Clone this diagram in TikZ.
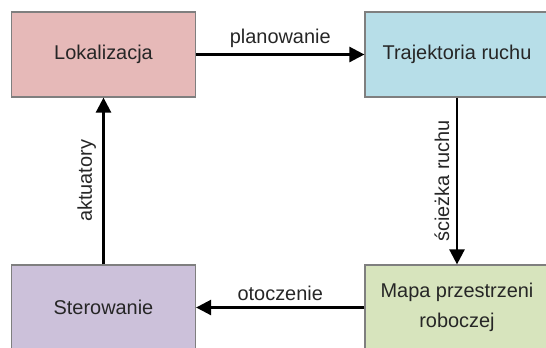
\documentclass[tikz,border=0pt]{standalone}
\usepackage{fontspec}
\setmainfont{Liberation Sans}
\usetikzlibrary{arrows.meta}

\definecolor{rozowy}{HTML}{E6B9B8}
\definecolor{niebieski}{HTML}{B7DEE8}
\definecolor{fioletowy}{HTML}{CCC1DA}
\definecolor{zielony}{HTML}{D7E4BD}
\definecolor{ramka}{HTML}{7F7F7F}

\begin{document}
\begin{tikzpicture}[x=1bp, y=-1bp,
    blok/.style={draw=ramka, line width=1.2bp, minimum width=184bp, minimum height=85bp,
        align=center, font=\fontsize{20}{30}\selectfont, text=black!85},
    strzalka/.style={line width=2.5bp, -{Triangle[length=15bp, width=15bp]}},
    etykieta/.style={font=\fontsize{20}{24}\selectfont, text=black!85}]
    \useasboundingbox (0,0) rectangle (546,347);

    % bloki
    \node[blok, fill=rozowy] (lok) at (103.5,54.5) {Lokalizacja};
    \node[blok, fill=niebieski] (traj) at (457,54.5) {Trajektoria ruchu};
    \node[blok, fill=fioletowy] (ster) at (103.5,307.5) {Sterowanie};
    \node[blok, fill=zielony] (mapa) at (457,307.5) {Mapa przestrzeni\\roboczej};

    % strzalki
    \draw[strzalka] (lok) -- node[etykieta, midway, above, yshift=2bp] {planowanie} (traj);
    \draw[strzalka] (traj) -- node[etykieta, midway, rotate=90, anchor=south, yshift=3bp] {ścieżka ruchu} (mapa);
    \draw[strzalka] (mapa) -- node[etykieta, midway, above, yshift=2bp] {otoczenie} (ster);
    \draw[strzalka] (ster) -- node[etykieta, midway, rotate=90, anchor=south, yshift=3bp] {aktuatory} (lok);
\end{tikzpicture}
\end{document}
